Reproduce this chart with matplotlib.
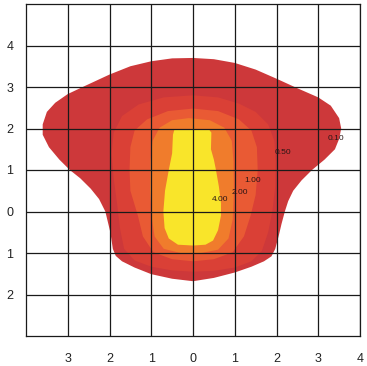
import matplotlib
matplotlib.use('Agg')
import matplotlib.pyplot as plt
from matplotlib.patches import Polygon

# contour levels and boundary outlines (x, y in grid units)
levels = ['0.10', '0.50', '1.00', '2.00', '4.00']

outline_010 = [
    (0, 3.7), (0.5, 3.67), (1.0, 3.58), (1.5, 3.42), (2.0, 3.2), (2.5, 2.97),
    (3.0, 2.75), (3.3, 2.55), (3.5, 2.25), (3.55, 2.0), (3.5, 1.75), (3.4, 1.5),
    (3.15, 1.25), (2.85, 1.0), (2.6, 0.75), (2.4, 0.5), (2.28, 0.25), (2.2, 0.0),
    (2.12, -0.3), (2.05, -0.6), (1.97, -0.9), (1.88, -1.08), (1.7, -1.2),
    (1.4, -1.33), (1.0, -1.47), (0.5, -1.6), (0.0, -1.68), (-0.5, -1.62),
    (-1.0, -1.51), (-1.4, -1.35), (-1.7, -1.2), (-1.85, -1.07), (-1.92, -0.9),
    (-1.98, -0.5), (-2.1, 0.0), (-2.25, 0.3), (-2.45, 0.55), (-2.7, 0.8),
    (-2.95, 1.0), (-3.2, 1.25), (-3.45, 1.55), (-3.6, 1.85), (-3.6, 2.1),
    (-3.5, 2.4), (-3.3, 2.62), (-3.0, 2.83), (-2.6, 3.02), (-2.0, 3.3),
    (-1.5, 3.5), (-1.0, 3.62), (-0.5, 3.69),
]
outline_050 = [
    (0, 2.8), (0.6, 2.75), (1.1, 2.6), (1.5, 2.4), (1.8, 2.1), (1.95, 1.7),
    (1.98, 1.2), (1.97, 0.6), (1.9, 0.0), (1.8, -0.5), (1.65, -0.95), (1.4, -1.2),
    (1.0, -1.35), (0.5, -1.43), (0, -1.45), (-0.5, -1.42), (-1.0, -1.33),
    (-1.4, -1.18), (-1.65, -0.9), (-1.75, -0.4), (-1.82, 0.2), (-1.9, 0.8),
    (-1.95, 1.4), (-1.9, 1.9), (-1.7, 2.3), (-1.3, 2.58), (-0.7, 2.75),
]
outline_100 = [
    (0, 2.48), (0.6, 2.42), (1.1, 2.22), (1.4, 1.95), (1.53, 1.55), (1.55, 1.0),
    (1.5, 0.4), (1.38, -0.1), (1.22, -0.6), (0.95, -0.98), (0.5, -1.15), (0, -1.2),
    (-0.5, -1.15), (-0.95, -0.98), (-1.2, -0.6), (-1.32, -0.1), (-1.5, 0.5),
    (-1.52, 1.0), (-1.5, 1.55), (-1.4, 1.95), (-1.1, 2.22), (-0.6, 2.42),
]
outline_200 = [
    (-0.1, 2.25), (0.4, 2.2), (0.75, 2.02), (0.93, 1.7), (0.97, 1.2), (0.98, 0.5),
    (0.95, -0.2), (0.85, -0.65), (0.6, -0.92), (0.2, -1.0), (-0.3, -1.0),
    (-0.7, -0.9), (-0.92, -0.6), (-0.98, -0.2), (-1.03, 0.5), (-1.02, 1.2),
    (-0.97, 1.7), (-0.8, 2.02), (-0.5, 2.2),
]
outline_400 = [
    (-0.4, 1.98), (0.0, 1.99), (0.38, 1.98), (0.44, 1.9), (0.43, 1.5), (0.5, 1.25),
    (0.55, 1.0), (0.62, 0.6), (0.67, 0.2), (0.67, -0.1), (0.6, -0.45), (0.48, -0.7),
    (0.3, -0.8), (0.0, -0.82), (-0.36, -0.8), (-0.58, -0.65), (-0.68, -0.4),
    (-0.71, 0.0), (-0.67, 0.5), (-0.58, 1.0), (-0.5, 1.4), (-0.48, 1.85),
    (-0.45, 1.96),
]
outlines = [outline_010, outline_050, outline_100, outline_200, outline_400]

# where the level numbers sit on the scan
label_pos = [(3.43, 1.75), (2.15, 1.43), (1.44, 0.75), (1.13, 0.45), (0.65, 0.3)]

x_ticks = [-3, -2, -1, 0, 1, 2, 3, 4]
x_labels = ['3', '2', '1', '0', '1', '2', '3', '4']
y_ticks = [-2, -1, 0, 1, 2, 3, 4]
y_labels = ['2', '1', '0', '1', '2', '3', '4']

colors = ['#cd383a', '#da4036', '#e95a34', '#f07c2c', '#f9e52a']

plt.rcParams['font.family'] = ['Liberation Sans', 'DejaVu Sans']

fig = plt.figure(figsize=(3.67, 3.66), dpi=100)
ax = fig.add_axes([26 / 367, 30 / 366, 334 / 367, 332 / 366])

for pts, col in zip(outlines, colors):
    ax.add_patch(Polygon(pts, closed=True, facecolor=col, edgecolor='none', zorder=1))

for txt, (lx, ly) in zip(levels, label_pos):
    ax.text(lx, ly, txt, fontsize=6, color='#2a1515', ha='center', va='center', zorder=4)

ax.set_xlim(-4, 4)
ax.set_ylim(-3, 5)
ax.set_xticks(x_ticks)
ax.set_xticklabels(x_labels)
ax.set_yticks(y_ticks)
ax.set_yticklabels(y_labels)
ax.tick_params(length=0, labelsize=9, colors='#222222')
ax.tick_params(axis='x', pad=12)
ax.tick_params(axis='y', pad=9)
ax.grid(True, color='#1a1a1a', linewidth=0.9)
ax.set_axisbelow(False)
for s in ax.spines.values():
    s.set_color('#1a1a1a')
    s.set_linewidth(0.9)

fig.savefig('out.png', dpi=100)
